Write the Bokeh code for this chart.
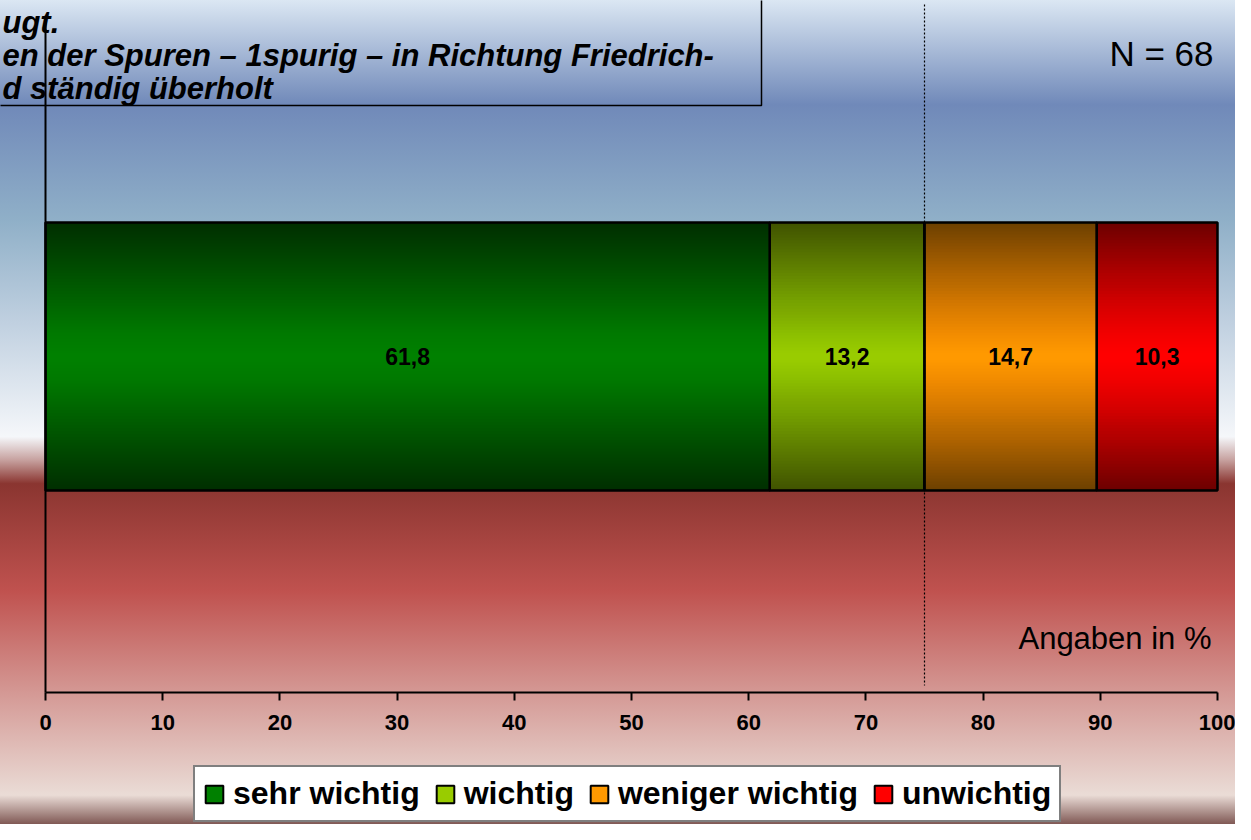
import numpy as np
from bokeh.plotting import figure
from bokeh.models import (Range1d, ColumnDataSource, Legend, LegendItem, FixedTicker,
                          InlineStyleSheet, LinearAxis)
from bokeh.core.properties import value
from bokeh.embed import file_html
from bokeh.resources import INLINE

# ---------------- data ----------------
categories = ["sehr wichtig", "wichtig", "weniger wichtig", "unwichtig"]
shares = [61.8, 13.2, 14.7, 10.3]
colors = ["#008000", "#99cc00", "#ff9900", "#ff0000"]
tick_values = [0, 10, 20, 30, 40, 50, 60, 70, 80, 90, 100]
title_lines = ["ugt.",
               "en der Spuren \u2013 1spurig \u2013 in Richtung Friedrich-",
               "d st\u00e4ndig \u00fcberholt"]
sample_note = "N = 68"
unit_note = "Angaben in %"
marker_value = 75

# ---------------- layout (pixels of the figure) ----------------
W, H = 1235, 824
X0_PX, X100_PX = 45, 1217
BAR_TOP_PX, BAR_BOT_PX = 222, 490
AXIS_PX, PLOT_TOP_PX = 692, 20
FONT = "Liberation Sans"

px_per_x = (X100_PX - X0_PX) / 100.0
bar_c = (BAR_TOP_PX + BAR_BOT_PX) / 2.0
px_per_y = float(BAR_BOT_PX - BAR_TOP_PX)


def xd(px):
    return (px - X0_PX) / px_per_x


def yd(py):
    return (bar_c - py) / px_per_y


bg_css = """
:host {
  background: linear-gradient(to bottom,
    #dbe7f3 0%, #7089b9 12.7%, #90b0c8 26.9%, #c0d0e0 39.1%, #f5f7fa 53.0%,
    #c7a2a0 55.8%, #8a3530 58.7%, #c0524f 71.8%, #d49894 84.0%,
    #eadcd6 96.5%, #805955 100%);
}
"""

p = figure(width=W, height=H, x_range=Range1d(xd(0), xd(W)), y_range=Range1d(yd(H), yd(0)),
           output_backend="svg", toolbar_location=None, min_border=0,
           x_axis_location=None, y_axis_location=None)
p.stylesheets = [InlineStyleSheet(css=bg_css)]
p.background_fill_color = None
p.border_fill_color = None
p.outline_line_color = None
p.grid.visible = False

# ---------------- bars ----------------
rights = np.cumsum(shares)
lefts = rights - np.array(shares)
labels = [f"{v:.1f}".replace(".", ",") for v in shares]
src = ColumnDataSource(dict(y=[0] * len(shares), left=lefts, right=rights, color=colors,
                            cat=categories, label=labels, mid=(lefts + rights) / 2))
bars = p.hbar(y="y", left="left", right="right", height=1, fill_color="color",
              line_color="black", line_width=2, source=src)

# vertical shading of the bar (dark at top/bottom, bright in the middle)
N = 45
thr = np.arange(N) / N
mid = (np.arange(N) + 0.5) / N
dark = 0.52 * mid ** 1.25
T = 1 - dark
T_prev = np.concatenate([[1.0], T[:-1]])
alphas = 1 - T / T_prev
total = float(rights[-1])
p.quad(left=[0.0] * N, right=[total] * N, bottom=list(thr * 0.5), top=[0.5] * N,
       fill_color="black", fill_alpha=list(alphas), line_color=None)
p.quad(left=[0.0] * N, right=[total] * N, bottom=[-0.5] * N, top=list(-thr * 0.5),
       fill_color="black", fill_alpha=list(alphas), line_color=None)
p.hbar(y="y", left="left", right="right", height=1, fill_color=None,
       line_color="black", line_width=2, source=src)

p.text(x="mid", y="y", text="label", text_align="center", text_baseline="middle",
       text_font=value(FONT), text_font_style="bold", text_font_size="23px",
       text_color="black", source=src)

# ---------------- axes ----------------
xaxis = LinearAxis(fixed_location=yd(AXIS_PX), bounds=(0, 100),
                   ticker=FixedTicker(ticks=tick_values),
                   axis_line_width=2, axis_line_color="black",
                   major_tick_line_width=2, major_tick_line_color="black",
                   major_tick_out=8, major_tick_in=0, minor_tick_out=0, minor_tick_in=0,
                   major_label_text_font=FONT, major_label_text_font_style="bold",
                   major_label_text_font_size="22px", major_label_text_color="black",
                   major_label_standoff=14)
p.add_layout(xaxis, "below")
yaxis = LinearAxis(fixed_location=0, bounds=(yd(AXIS_PX), yd(PLOT_TOP_PX)),
                   ticker=FixedTicker(ticks=[]), axis_line_width=2, axis_line_color="black",
                   major_tick_out=0, major_tick_in=0, minor_tick_out=0, minor_tick_in=0,
                   major_label_text_font_size="0px")
p.add_layout(yaxis, "left")

# dotted reference line at 75 %
p.segment(x0=[marker_value], x1=[marker_value], y0=[yd(4)], y1=[yd(685)],
          line_color="black", line_width=1.2, line_dash="2 2")

# ---------------- title box and notes ----------------
p.quad(left=[xd(-30)], right=[xd(761)], bottom=[yd(105)], top=[yd(-30)],
       fill_color=None, line_color="black", line_width=1.5)
p.text(x=[xd(2)] * 3, y=[yd(22), yd(55), yd(88)], text=title_lines,
       text_font=value(FONT), text_font_style="bold italic", text_font_size="31px",
       text_baseline="alphabetic", text_align="left", text_color="black")
p.text(x=[xd(1213)], y=[yd(53)], text=[sample_note], text_font=value(FONT),
       text_font_size="35px", text_align="right", text_baseline="alphabetic",
       text_color="black")
p.text(x=[xd(1211)], y=[yd(638)], text=[unit_note], text_font=value(FONT),
       text_font_size="31px", text_align="right", text_baseline="alphabetic",
       text_color="black")

# ---------------- legend ----------------
legend = Legend(items=[LegendItem(label=c, renderers=[bars], index=i)
                       for i, c in enumerate(categories)],
                orientation="horizontal", location=(193, 2),
                label_text_font=FONT, label_text_font_style="bold",
                label_text_font_size="32px", label_text_color="black",
                glyph_width=22, glyph_height=22, label_standoff=8, spacing=14,
                padding=8, margin=0, border_line_color="black", border_line_width=2,
                background_fill_color="white", background_fill_alpha=1)
p.add_layout(legend)

open("out.html", "w").write(file_html(p, INLINE))
